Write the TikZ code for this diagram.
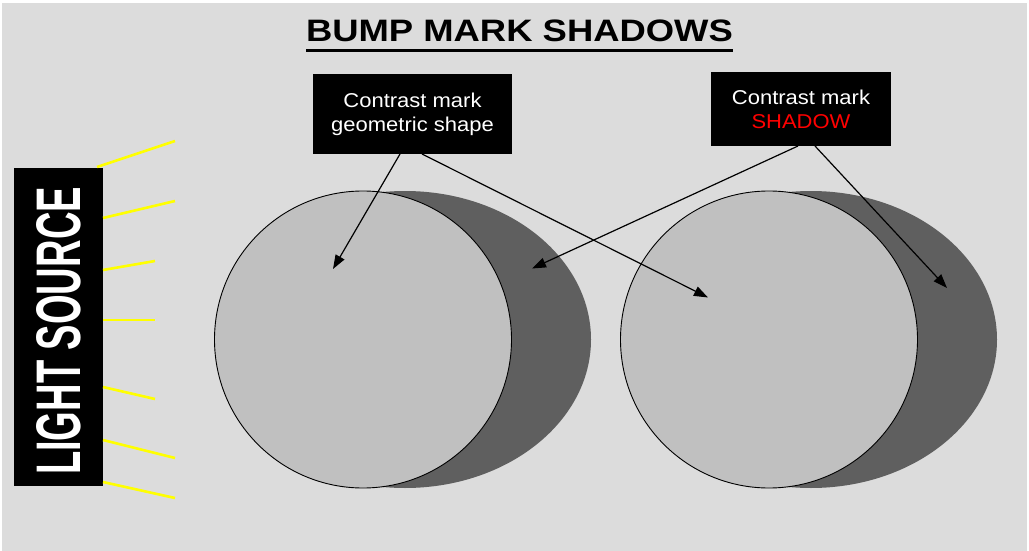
\documentclass[tikz,border=0pt]{standalone}
\usepackage{fontspec}
\setmainfont{Liberation Sans}
\usetikzlibrary{shapes.geometric,arrows.meta}
\definecolor{bg}{HTML}{DCDCDC}
\definecolor{disk}{HTML}{C0C0C0}
\definecolor{shade}{HTML}{5F5F5F}
\definecolor{ray}{HTML}{FFFF00}
\definecolor{shadowred}{HTML}{FF0000}
\tikzset{
  disknode/.style={circle, draw=black, line width=0.9pt, fill=disk, minimum size=297pt, inner sep=0pt},
  shadenode/.style={ellipse, fill=shade, minimum width=372pt, minimum height=297pt, inner sep=0pt},
  labelbox/.style={fill=black, text=white, align=center, inner sep=0pt, font=\fontsize{20}{24}\selectfont},
  pointer/.style={draw=black, line width=1.2pt, -{Triangle[length=14pt,width=10pt]}},
  rayline/.style={draw=ray, line width=2.6pt},
}
\begin{document}
\begin{tikzpicture}[x=1pt,y=-1pt]
\useasboundingbox (0,0) rectangle (1029,551);
\fill[white] (0,0) rectangle (1029,551);
\fill[bg] (2,3) rectangle (1027,551);
% title
\node[anchor=base, inner sep=0pt] (title) at (519.5,41.7)
  {\scalebox{1.175}[1]{\fontsize{31}{31}\selectfont\bfseries BUMP MARK SHADOWS}};
\draw[line width=3pt] (306,51) -- (733,51);
% shadows and disks
\node[shadenode] (s1) at (405,339.5) {};
\node[shadenode] (s2) at (811,339.5) {};
\node[disknode] (c1) at (363,339.5) {};
\node[disknode] (c2) at (769,339.5) {};
% light source
\node[fill=black, minimum width=89pt, minimum height=318pt, inner sep=0pt] (light) at (58.5,327) {};
\node[rotate=90, anchor=base, inner sep=0pt, text=white] (lighttext) at (80,331)
  {\scalebox{0.605}[1]{\fontsize{63}{63}\selectfont\bfseries LIGHT SOURCE}};
\draw[rayline] (97,167) -- (175,141);
\draw[rayline] (103,218) -- (175,201);
\draw[rayline] (103,270) -- (155,261);
\draw[rayline] (103,320) -- (155,320);
\draw[rayline] (103,387) -- (155,399);
\draw[rayline] (103,440) -- (175,458);
\draw[rayline] (103,482) -- (175,498);
% label boxes
\node[labelbox, minimum width=199pt, minimum height=80pt] (geo) at (412.5,114)
  {\scalebox{1.1}[1]{Contrast mark}\\\scalebox{1.1}[1]{geometric shape}};
\node[labelbox, minimum width=180pt, minimum height=74pt] (sh) at (801,109)
  {\scalebox{1.1}[1]{Contrast mark}\\\scalebox{1.1}[1]{\textcolor{shadowred}{SHADOW}}};
% connector ends
\coordinate (geoA) at (400,154);
\coordinate (geoB) at (422,154);
\coordinate (shA) at (798,146);
\coordinate (shB) at (815,146);
\coordinate (tipA) at (333,269);
\coordinate (tipB) at (708,297.5);
\coordinate (tipC) at (532,268.5);
\coordinate (tipD) at (947,288);
\draw[pointer] (geoA) -- (tipA);
\draw[pointer] (geoB) -- (tipB);
\draw[pointer] (shA) -- (tipC);
\draw[pointer] (shB) -- (tipD);
\end{tikzpicture}
\end{document}
